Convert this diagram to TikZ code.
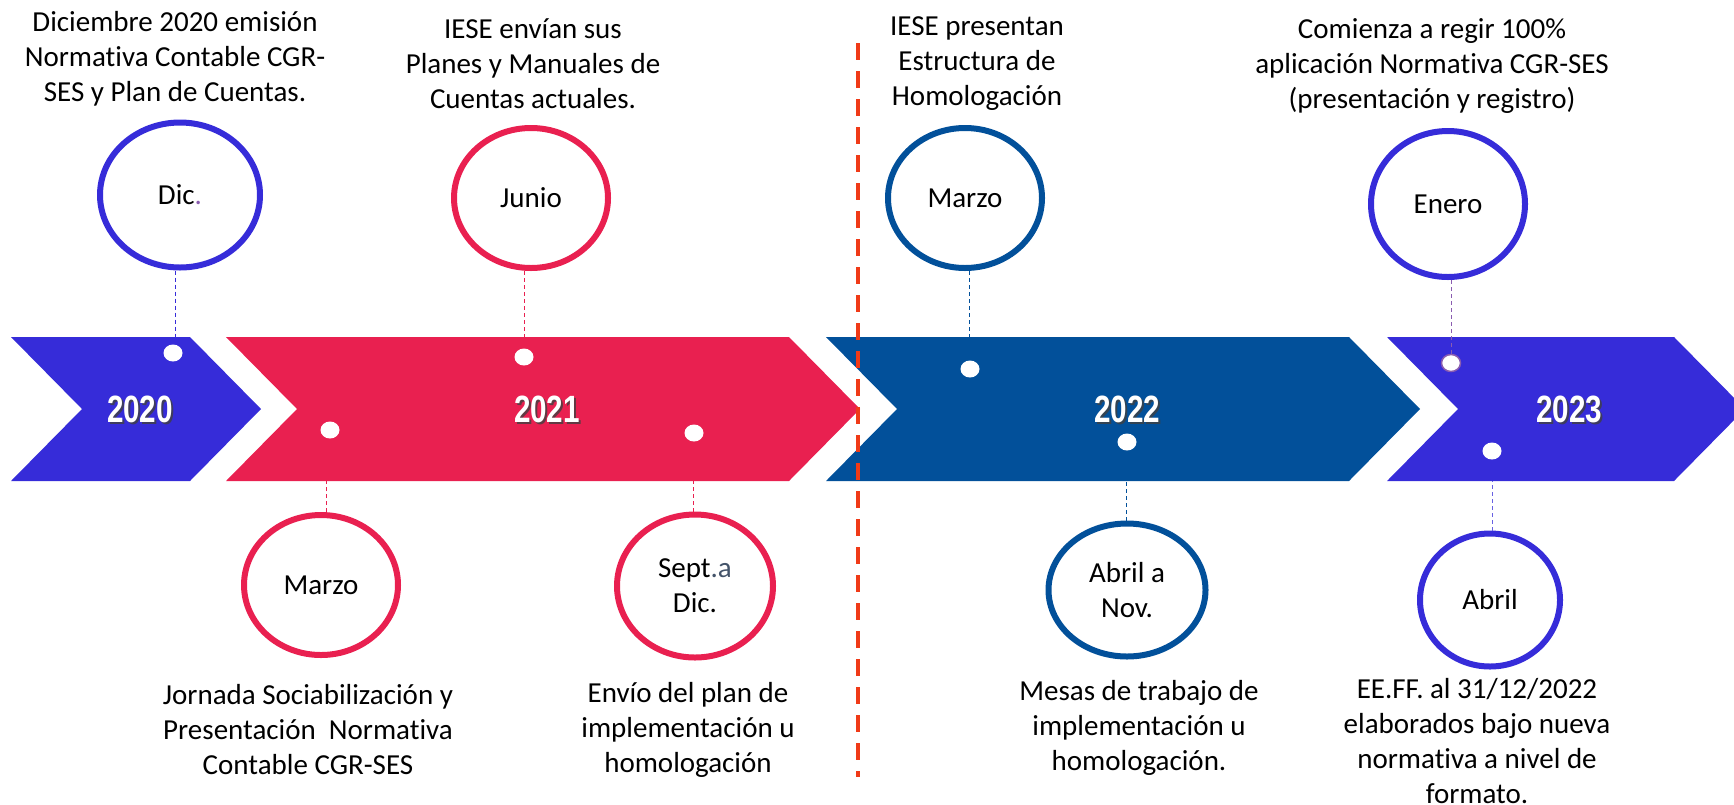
\documentclass[tikz,border=0pt]{standalone}
\usepackage{fontspec}
\setmainfont[Ligatures=NoCommon]{Carlito}
\newfontfamily\yearfont[FakeStretch=0.78]{Liberation Sans}
\usetikzlibrary{shapes.geometric, positioning}

\definecolor{violetBlue}{RGB}{54,44,217}
\definecolor{crimson}{RGB}{233,32,80}
\definecolor{navy}{RGB}{2,80,154}
\definecolor{cutRed}{RGB}{240,58,23}
\definecolor{plum}{RGB}{138,92,176}
\definecolor{slate}{RGB}{68,84,106}

\begin{document}
\begin{tikzpicture}[x=1pt, y=-1pt,
		month/.style={ellipse, draw=#1, line width=6pt, fill=white, minimum width=154pt, minimum height=140pt, inner sep=0pt, align=center, font=\fontsize{29}{35}\selectfont},
		note/.style={align=center, inner sep=0pt, font=\fontsize{29}{35}\selectfont},
		dot/.style={ellipse, fill=white, minimum width=19pt, minimum height=17pt, inner sep=0pt},
		link/.style={draw=#1, line width=1pt, dash pattern=on 4pt off 3pt},
		year/.style={font=\yearfont\bfseries\fontsize{38}{38}\selectfont, inner sep=0pt}]
		\useasboundingbox (0,0) rectangle (1734,804);

		% chevrons
		\fill[violetBlue] (11,337) -- (190,337) -- (261,409) -- (190,481) -- (11,481) -- (82,409) -- cycle;
		\fill[crimson] (226,337) -- (789,337) -- (860,409) -- (789,481) -- (226,481) -- (297,409) -- cycle;
		\fill[navy] (826,337) -- (1349,337) -- (1420,409) -- (1349,481) -- (826,481) -- (897,409) -- cycle;
		\fill[violetBlue] (1387,337) -- (1674,337) -- (1745,409) -- (1674,481) -- (1387,481) -- (1458,409) -- cycle;

		% years
		\foreach \yx/\yl in {140/2020, 547/2021, 1127/2022, 1569/2023} {
			\node[year, text=black!75, opacity=.8] at (\yx+2,409+2) {\yl};
			\node[year, text=white] at (\yx,409) {\yl};
		}

		% cut line
		\draw[cutRed, line width=4pt, dash pattern=on 17pt off 11pt] (858,43) -- (858,777);

		% months above
		\node[month=violetBlue, minimum width=160pt, minimum height=145pt] (dicCircle) at (180,195) {Dic{\color{plum}.}};
		\node[month=crimson] (junioCircle) at (531,198) {Junio};
		\node[month=navy] (marzoTwo) at (965,198) {Marzo};
		\node[month=violetBlue, minimum height=146pt] (eneroCircle) at (1448,204) {Enero};

		% months below
		\node[month=crimson] (marzoOne) at (321,585) {Marzo};
		\node[month=crimson, minimum width=156pt, minimum height=143pt] (septCircle) at (695,586) {Sept{\color{slate}.a}\\Dic.};
		\node[month=navy, minimum width=157pt, minimum height=133pt] (abrilNov) at (1127,590) {Abril a\\Nov.};
		\node[month=violetBlue, minimum width=140pt, minimum height=133pt] (abrilCircle) at (1490,600) {Abril};

		% dots
		\node[dot] (dicDot) at (173,353) {};
		\node[dot] (junioDot) at (524,357) {};
		\node[dot] (marzoTwoDot) at (970,369) {};
		\node[dot, draw=plum, line width=1.5pt] (eneroDot) at (1451,363) {};
		\node[dot] (marzoOneDot) at (330,430) {};
		\node[dot] (septDot) at (694,433) {};
		\node[dot] (abrilNovDot) at (1127,442) {};
		\node[dot] (abrilDot) at (1492,451) {};

		% edges of the chevrons
		\coordinate (dicEdge) at (175,337);
		\coordinate (junioEdge) at (524,337);
		\coordinate (marzoTwoEdge) at (969,337);
		\coordinate (marzoOneEdge) at (326,481);
		\coordinate (septEdge) at (693,481);
		\coordinate (abrilNovEdge) at (1126,481);
		\coordinate (abrilEdge) at (1492,481);

		\draw[link=violetBlue] (dicEdge |- dicCircle.south) to (dicEdge);
		\draw[link=crimson] (junioEdge |- junioCircle.south) to (junioEdge);
		\draw[link=navy] (marzoTwoEdge |- marzoTwo.south) to (marzoTwoEdge);
		\draw[link=plum] (eneroDot |- eneroCircle.south) to (eneroDot);
		\draw[link=crimson] (marzoOneEdge |- marzoOne.north) to (marzoOneEdge);
		\draw[link=crimson] (septEdge |- septCircle.north) to (septEdge);
		\draw[link=navy] (abrilNovEdge |- abrilNov.north) to (abrilNovEdge);
		\draw[link=violetBlue!75] (abrilEdge |- abrilCircle.north) to (abrilEdge);

		% texts above
		\node[note] (dicText) at (175,59) {Diciembre 2020 emisión\\Normativa Contable CGR-\\SES y Plan de Cuentas.};
		\node[note] (junioText) at (533,64) {IESE envían sus\\Planes y Manuales de\\Cuentas actuales.};
		\node[note] (marzoTwoText) at (977,64) {IESE presentan\\Estructura de\\Homologación};
		\node[note] (eneroText) at (1432,66) {Comienza a regir 100\%\\aplicación Normativa CGR-SES\\(presentación y registro)};

		% texts below
		\node[note] (marzoOneText) at (308,730) {Jornada Sociabilización y\\Presentación~ Normativa\\Contable CGR-SES};
		\node[note] (septText) at (688,730) {Envío del plan de\\implementación u\\homologación};
		\node[note] (abrilNovText) at (1139,728) {Mesas de trabajo de\\implementación u\\homologación.};
		\node[note] (abrilText) at (1477,741) {EE.FF. al 31/12/2022\\elaborados bajo nueva\\normativa a nivel de\\formato.};
	\end{tikzpicture}
\end{document}
